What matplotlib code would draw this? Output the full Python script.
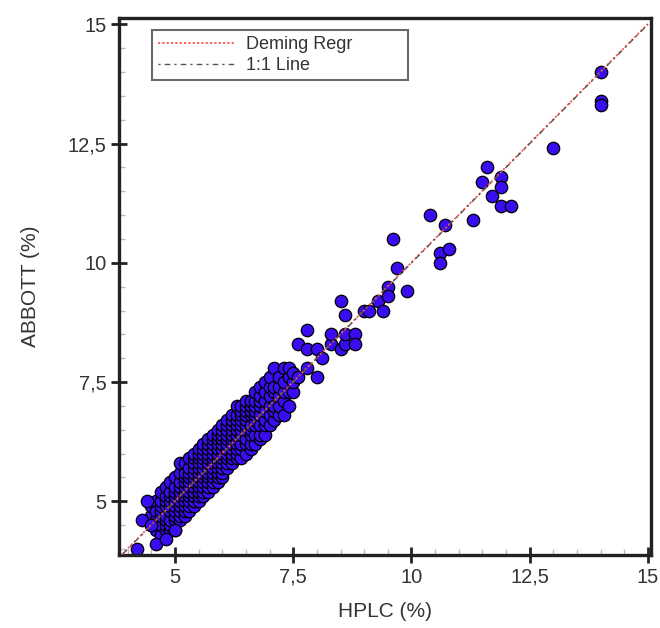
import matplotlib
matplotlib.use("Agg")
import matplotlib.pyplot as plt
from matplotlib.ticker import FixedLocator, MultipleLocator, FuncFormatter

plt.rcParams['font.family'] = ['Liberation Sans', 'DejaVu Sans']

# ---- data: dense band, HPLC value -> list of ABBOTT values ----
dense_columns = {
    4.5: [4.5, 4.7, 4.9],
    4.6: [4.4, 4.6, 4.8, 5.0],
    4.7: [4.3, 4.5, 4.7, 4.8, 4.9, 5.0, 5.2],
    4.8: [4.4, 4.5, 4.6, 4.7, 4.9, 5.0, 5.1, 5.3],
    4.9: [4.4, 4.5, 4.6, 4.8, 4.9, 5.0, 5.1, 5.2, 5.4],
    5.0: [4.4, 4.6, 4.7, 4.8, 4.9, 5.0, 5.1, 5.2, 5.3, 5.5],
    5.1: [4.6, 4.7, 4.8, 4.9, 5.0, 5.1, 5.2, 5.3, 5.4, 5.6, 5.8],
    5.2: [4.7, 4.8, 4.9, 5.0, 5.1, 5.2, 5.3, 5.4, 5.5, 5.6, 5.8],
    5.3: [4.8, 4.9, 5.0, 5.1, 5.2, 5.3, 5.4, 5.5, 5.6, 5.7, 5.9],
    5.4: [4.9, 5.0, 5.1, 5.2, 5.3, 5.4, 5.5, 5.6, 5.7, 5.8, 5.9, 6.0],
    5.5: [5.0, 5.1, 5.2, 5.3, 5.4, 5.5, 5.6, 5.7, 5.8, 5.9, 6.0, 6.1],
    5.6: [5.1, 5.2, 5.3, 5.4, 5.5, 5.6, 5.7, 5.8, 5.9, 6.0, 6.1, 6.2],
    5.7: [5.2, 5.3, 5.4, 5.5, 5.6, 5.7, 5.8, 5.9, 6.0, 6.1, 6.2, 6.3],
    5.8: [5.3, 5.4, 5.5, 5.6, 5.7, 5.8, 5.9, 6.0, 6.1, 6.2, 6.3, 6.4],
    5.9: [5.4, 5.5, 5.6, 5.7, 5.8, 5.9, 6.0, 6.1, 6.2, 6.3, 6.4, 6.5],
    6.0: [5.5, 5.6, 5.7, 5.8, 5.9, 6.0, 6.1, 6.2, 6.3, 6.4, 6.5, 6.6],
    6.1: [5.7, 5.8, 5.9, 6.0, 6.1, 6.2, 6.3, 6.4, 6.5, 6.6, 6.7],
    6.2: [5.8, 5.9, 6.0, 6.1, 6.2, 6.3, 6.4, 6.5, 6.6, 6.7, 6.8],
    6.3: [5.9, 6.0, 6.1, 6.2, 6.3, 6.4, 6.5, 6.6, 6.7, 6.8, 7.0],
    6.4: [5.9, 6.1, 6.2, 6.4, 6.5, 6.6, 6.7, 6.8, 6.9, 7.0],
    6.5: [6.0, 6.2, 6.3, 6.5, 6.6, 6.7, 6.8, 6.9, 7.0, 7.1],
    6.6: [6.1, 6.2, 6.4, 6.5, 6.6, 6.8, 6.9, 7.0, 7.1],
    6.7: [6.2, 6.4, 6.6, 6.7, 6.8, 6.9, 7.0, 7.1, 7.3],
    6.8: [6.3, 6.4, 6.6, 6.8, 7.0, 7.1, 7.2, 7.4],
    6.9: [6.4, 6.6, 6.7, 6.9, 7.1, 7.3, 7.5],
    7.0: [6.6, 6.8, 7.0, 7.2, 7.4, 7.6],
    7.1: [6.7, 6.9, 7.0, 7.3, 7.4, 7.8],
    7.2: [6.8, 7.0, 7.2, 7.4, 7.6],
    7.3: [6.8, 7.1, 7.3, 7.5, 7.8],
    7.4: [7.0, 7.3, 7.6, 7.8],
    7.5: [7.3, 7.5, 7.7],
}

# ---- data: sparse points ----
hplc_sparse = [4.2, 4.3, 4.4, 4.5, 4.6, 4.8, 5.0,
               7.6, 7.6, 7.8, 7.8, 7.8, 8.0, 8.0, 8.1, 8.3, 8.3, 8.5, 8.5, 8.6, 8.6,
               8.6, 8.8, 8.8, 9.0, 9.1, 9.3, 9.4, 9.5, 9.5, 9.6, 9.7, 9.9,
               10.4, 10.6, 10.6, 10.7, 10.8, 11.3, 11.5, 11.6, 11.7, 11.9, 11.9,
               11.9, 12.1, 13.0, 14.0, 14.0, 14.0]
abbott_sparse = [4.0, 4.6, 5.0, 4.5, 4.1, 4.2, 4.4,
                 8.3, 7.6, 8.6, 8.2, 7.8, 8.2, 7.6, 8.0, 8.3, 8.5, 9.2, 8.2, 8.9, 8.3,
                 8.5, 8.5, 8.3, 9.0, 9.0, 9.2, 9.0, 9.5, 9.3, 10.5, 9.9, 9.4,
                 11.0, 10.2, 10.0, 10.8, 10.3, 10.9, 11.7, 12.0, 11.4, 11.8, 11.6,
                 11.2, 11.2, 12.4, 14.0, 13.4, 13.3]

deming_slope = 1.0
deming_intercept = 0.01
line_end = 15.0

x_ticks = [5, 7.5, 10, 12.5, 15]
y_ticks = [5, 7.5, 10, 12.5, 15]

hplc = []
abbott = []
for xv, ys in dense_columns.items():
    for yv in ys:
        hplc.append(xv)
        abbott.append(yv)
hplc += hplc_sparse
abbott += abbott_sparse

fig = plt.figure(figsize=(6.6, 6.28), dpi=100)
ax = fig.add_axes([0.180, 0.116, 0.806, 0.855])

xmin, xmax = 3.81, 15.06
ymin, ymax = 3.87, 15.13

ax.scatter(hplc, abbott, s=80, facecolor='#3a0cf0', edgecolor='black',
           linewidth=0.9, zorder=2)

lx = [xmin, line_end]
ax.plot(lx, [deming_intercept + deming_slope * v for v in lx], color='#ff5555',
        linestyle=(0, (1.2, 1.2)), linewidth=1.3, zorder=3,
        label='Deming Regr          ')
ax.plot(lx, lx, color='#555555', linestyle=(0, (1.5, 3, 4, 3)), linewidth=1.0,
        zorder=3, label='1:1 Line')

ax.set_xlim(xmin, xmax)
ax.set_ylim(ymin, ymax)

fmt = FuncFormatter(lambda v, p: ('%g' % v).replace('.', ','))
ax.xaxis.set_major_locator(FixedLocator(x_ticks))
ax.yaxis.set_major_locator(FixedLocator(y_ticks))
ax.xaxis.set_minor_locator(MultipleLocator(0.5))
ax.yaxis.set_minor_locator(MultipleLocator(0.5))
ax.xaxis.set_major_formatter(fmt)
ax.yaxis.set_major_formatter(fmt)

ax.tick_params(which='major', direction='inout', length=12, width=2.0,
               color='#222222', labelsize=14.5, labelcolor='#333333', pad=3)
ax.tick_params(which='minor', direction='in', length=4, width=1.0,
               color='#bbbbbb')
for s in ax.spines.values():
    s.set_linewidth(2.4)
    s.set_color('#222222')

ax.set_xlabel('HPLC (%)', fontsize=15, color='#333333', labelpad=11)
ax.set_ylabel('ABBOTT (%)', fontsize=15, color='#333333', labelpad=20)

leg = ax.legend(loc='upper left', bbox_to_anchor=(0.062, 0.978), fontsize=13,
                frameon=True, fancybox=False, edgecolor='#444444',
                handlelength=4.3, handletextpad=0.55, borderpad=0.35,
                labelspacing=0.2, borderaxespad=0.0)
leg.get_frame().set_linewidth(1.5)
for t in leg.get_texts():
    t.set_color('#333333')

fig.savefig('out.png', dpi=100)
